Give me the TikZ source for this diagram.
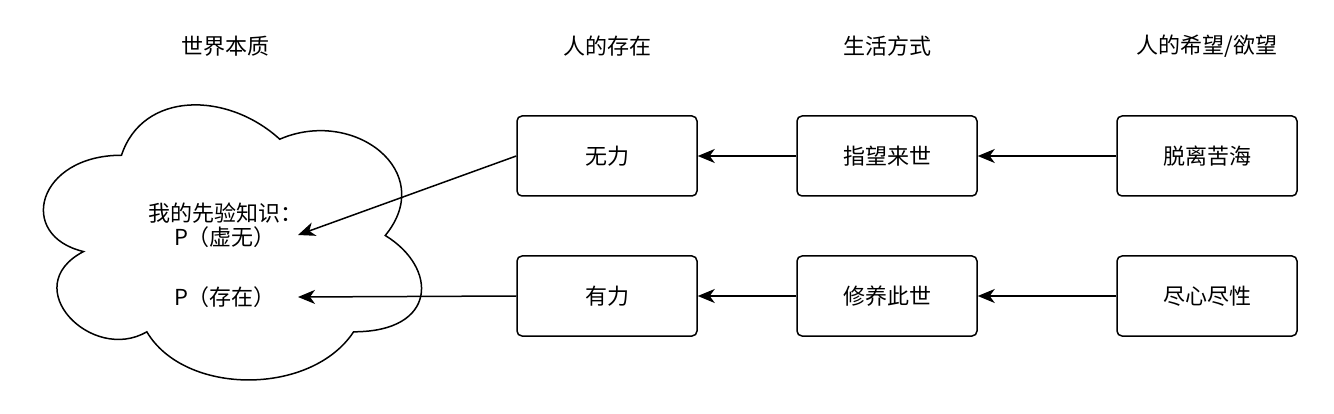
\documentclass[tikz,border=0pt]{standalone}
\usepackage{fontspec}
\setmainfont{Noto Sans CJK SC}
\usetikzlibrary{arrows.meta}
\tikzset{
  boxnode/.style={draw, line width=1.5pt, rounded corners=5pt, minimum width=180pt, minimum height=80pt, inner sep=0pt, font=\fontsize{22}{26}\selectfont},
  headnode/.style={font=\fontsize{22}{26}\selectfont, inner sep=0pt},
  txtnode/.style={font=\fontsize{22}{26}\selectfont, inner sep=0pt},
  conn/.style={line width=1.5pt, -{Stealth[length=17pt,width=14pt,inset=5pt]}},
  cloudline/.style={line width=1.5pt}
}
\begin{document}
\begin{tikzpicture}[x=1pt,y=-1pt]
\useasboundingbox (0,0) rectangle (1334,414);
% headers
\node[headnode] (h1) at (225,46) {世界本质};
\node[headnode] (h2) at (607,46) {人的存在};
\node[headnode] (h3) at (887,46) {生活方式};
\node[headnode] (h4) at (1207,46) {人的希望/欲望};
% cloud
\draw[cloudline] (121.5,155.25)
  .. controls (37.1,155.25) and (16,235.5) .. (83.52,251.55)
  .. controls (16,286.86) and (91.96,363.9) .. (146.82,331.8)
  .. controls (184.8,396) and (311.4,396) .. (353.6,331.8)
  .. controls (438,331.8) and (438,267.6) .. (385.25,235.5)
  .. controls (438,171.3) and (353.6,107.1) .. (279.75,139.2)
  .. controls (227,91.05) and (142.6,91.05) .. (121.5,155.25) -- cycle;
\node[txtnode] (prior) at (225,213) {我的先验知识：};
\node[txtnode] (pxw) at (225,237) {P（虚无）};
\node[txtnode] (pcz) at (225,297) {P（存在）};
\coordinate (t1) at (298,235);
\coordinate (t2) at (298,297);
% boxes
\node[boxnode] (wuli) at (607,156) {无力};
\node[boxnode] (zhiwang) at (887,156) {指望来世};
\node[boxnode] (tuoli) at (1207,156) {脱离苦海};
\node[boxnode] (youli) at (607,296) {有力};
\node[boxnode] (xiuyang) at (887,296) {修养此世};
\node[boxnode] (jinxin) at (1207,296) {尽心尽性};
% connectors
\draw[conn] (tuoli) -- (zhiwang);
\draw[conn] (zhiwang) -- (wuli);
\draw[conn] (jinxin) -- (xiuyang);
\draw[conn] (xiuyang) -- (youli);
\draw[conn] (wuli.west) -- (t1);
\draw[conn] (youli.west) -- (t2);
\end{tikzpicture}
\end{document}
